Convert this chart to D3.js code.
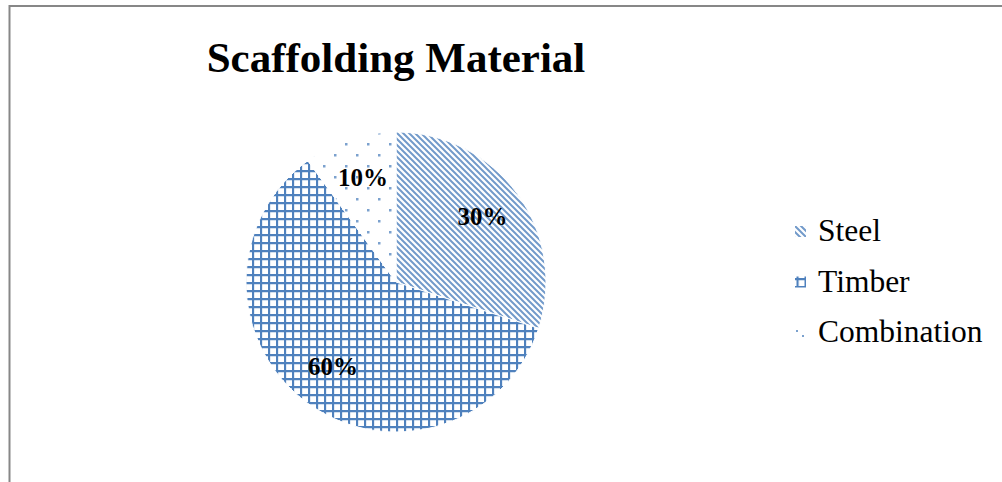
<!DOCTYPE html>
<html>
<head>
<meta charset="utf-8">
<script src="https://cdn.jsdelivr.net/npm/d3@7"></script>
<style>
  body { margin: 0; background: #fff; }
  svg { display: block; }
  text { font-family: "Liberation Serif", "Times New Roman", serif; }
</style>
</head>
<body>
<div id="chart"></div>
<script>
var categories = ["Steel", "Timber", "Combination"];
var values = [30, 60, 10];
var patternIds = ["pat-diag", "pat-grid", "pat-dots"];
var legendPatternIds = ["pat-diag", "pat-grid-legend", "pat-dots-legend"];

var width = 1002, height = 482;
var cx = 396, cy = 282, radius = 150;
var blue = "#4f81bd";

var svg = d3.select("#chart").append("svg")
    .attr("width", width)
    .attr("height", height);

var defs = svg.append("defs");

// diagonal stripes (Steel)
var diag = defs.append("pattern")
    .attr("id", "pat-diag")
    .attr("patternUnits", "userSpaceOnUse")
    .attr("width", 6).attr("height", 6);
diag.append("path")
    .attr("d", "M-1,-1 L7,7 M-1,5 L1,7 M5,-1 L7,1")
    .attr("stroke", blue).attr("stroke-width", 2).attr("opacity", 0.8);

// grid (Timber)
function addGrid(id, offset) {
  var p = defs.append("pattern")
      .attr("id", id)
      .attr("patternUnits", "userSpaceOnUse")
      .attr("x", offset).attr("y", offset)
      .attr("width", 8).attr("height", 8);
  p.append("path")
      .attr("d", "M1,0 L1,8 M0,1 L8,1")
      .attr("stroke", blue).attr("stroke-width", 2.3);
}
addGrid("pat-grid", 0);
addGrid("pat-grid-legend", 1.5);

// dots (Combination)
var dots = defs.append("pattern")
    .attr("id", "pat-dots")
    .attr("patternUnits", "userSpaceOnUse")
    .attr("width", 22).attr("height", 22);
dots.selectAll("rect").data([[4, 4], [15, 15]]).enter().append("rect")
    .attr("x", function(d) { return d[0]; })
    .attr("y", function(d) { return d[1]; })
    .attr("width", 2.5).attr("height", 2.5)
    .attr("fill", blue).attr("opacity", 0.75);

var dotsLegend = defs.append("pattern")
    .attr("id", "pat-dots-legend")
    .attr("patternUnits", "userSpaceOnUse")
    .attr("width", 12).attr("height", 12);
dotsLegend.selectAll("rect").data([[1, 3], [7, 8]]).enter().append("rect")
    .attr("x", function(d) { return d[0]; })
    .attr("y", function(d) { return d[1]; })
    .attr("width", 2).attr("height", 2)
    .attr("fill", blue).attr("opacity", 0.75);

// chart area border (top and left edges visible)
svg.append("path")
    .attr("d", "M9.5," + height + " L9.5,6 L" + width + ",6")
    .attr("fill", "none")
    .attr("stroke", "#878787")
    .attr("stroke-width", 2);

svg.append("text")
    .attr("x", 396)
    .attr("y", 72)
    .attr("text-anchor", "middle")
    .attr("font-size", 43)
    .attr("font-weight", "bold")
    .text("Scaffolding Material");

var total = d3.sum(values);
var pie = d3.pie().sort(null).value(function(d) { return d; });
var arc = d3.arc().innerRadius(0).outerRadius(radius);
var labelArc = d3.arc().innerRadius(107).outerRadius(107);

var g = svg.append("g").attr("transform", "translate(" + cx + "," + cy + ")");
var arcs = pie(values);

g.selectAll("path.slice")
    .data(arcs)
    .enter().append("path")
    .attr("class", "slice")
    .attr("d", arc)
    .attr("fill", function(d, i) { return "url(#" + patternIds[i] + ")"; })
    .attr("stroke", "#fff")
    .attr("stroke-width", 1);

g.selectAll("text.lbl")
    .data(arcs)
    .enter().append("text")
    .attr("class", "lbl")
    .attr("transform", function(d) { return "translate(" + labelArc.centroid(d) + ")"; })
    .attr("dy", "0.25em")
    .attr("text-anchor", "middle")
    .attr("font-size", 25)
    .attr("font-weight", "bold")
    .text(function(d) { return Math.round(d.value / total * 100) + "%"; });

// legend
var legendY = d3.scalePoint().domain(categories).range([241, 342]);
var legend = svg.append("g").selectAll("g")
    .data(categories)
    .enter().append("g")
    .attr("transform", function(d) { return "translate(795," + (legendY(d) - 15) + ")"; });

legend.append("rect")
    .attr("x", 0).attr("y", 0)
    .attr("width", 11).attr("height", 11)
    .attr("fill", function(d, i) { return "url(#" + legendPatternIds[i] + ")"; });

legend.append("text")
    .attr("x", 23)
    .attr("y", 15)
    .attr("font-size", 31.5)
    .text(function(d) { return d; });
</script>
</body>
</html>
